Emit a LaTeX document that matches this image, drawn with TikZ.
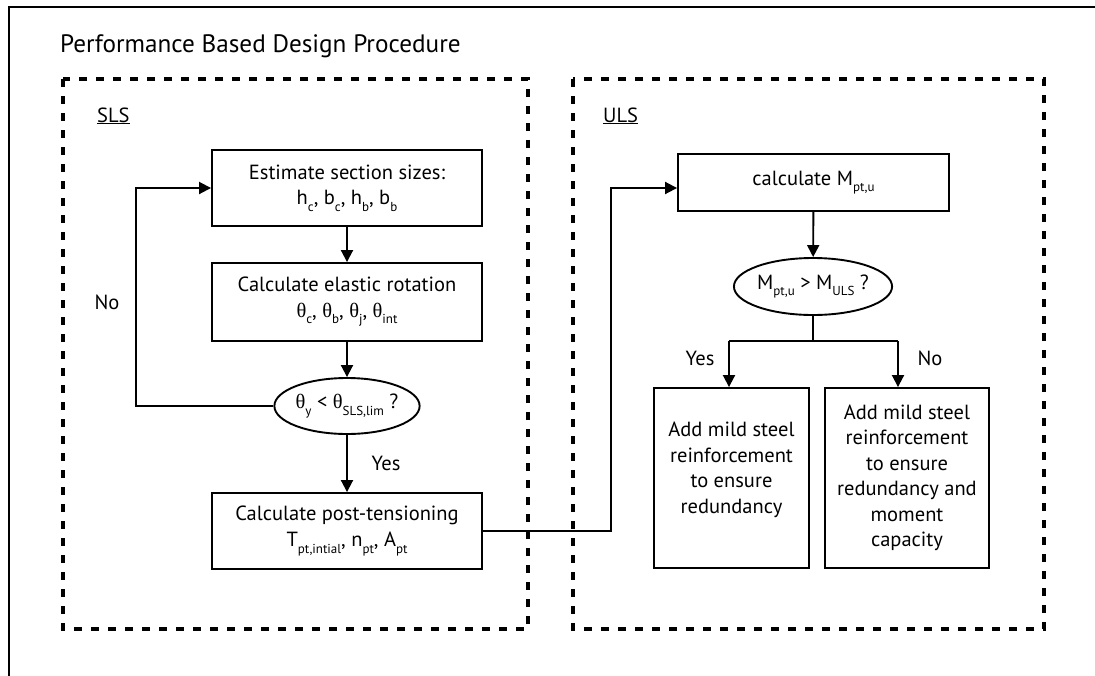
\documentclass[tikz,border=0pt]{standalone}
\usepackage{fontspec}
\setmainfont{PT Sans}
\newfontfamily\grk{Liberation Serif}
\usetikzlibrary{arrows.meta,shapes.geometric}
\newcommand{\lsub}[1]{\raisebox{-0.32em}{\fontsize{13}{13}\selectfont #1}}
\newcommand{\thet}{{\grk θ}}
\begin{document}
\begin{tikzpicture}[x=1pt,y=-1pt,
  txt/.style={font=\fontsize{20.5}{25.5}\selectfont, align=center, inner sep=0pt},
  box/.style={draw, line width=1.9pt, txt},
  dec/.style={ellipse, draw, line width=1.9pt, txt},
  grp/.style={draw, line width=3.5pt, dash pattern=on 8pt off 9pt},
  ln/.style={line width=1.9pt},
  arr/.style={line width=1.9pt, -{Triangle[length=12pt,width=12pt]}}]
\useasboundingbox (0,0) rectangle (1095,675);
\clip (0,0) rectangle (1095,675);
\fill[white] (0,0) rectangle (1095,675);
% outer frame
\draw[line width=2pt] (9,7) rectangle (1120,700);
\node[anchor=base west, inner sep=0pt, font=\fontsize{25.2}{28}\selectfont] (title) at (60,52) {Performance Based Design Procedure};
% groups
\draw[grp] (63,79) rectangle (528,629);
\draw[grp] (573,79) rectangle (1044,629);
\node[anchor=base west, txt] (sls) at (97,122) {\underline{SLS}};
\node[anchor=base west, txt] (uls) at (603,122) {\underline{ULS}};
% SLS nodes
\node[box, minimum width=270, minimum height=76] (box1) at (347,188) {Estimate section sizes:\\ h\lsub{c}, b\lsub{c}, h\lsub{b}, b\lsub{b}};
\node[box, minimum width=270, minimum height=78] (box2) at (347,302) {Calculate elastic rotation\\ \thet\lsub{c}, \thet\lsub{b}, \thet\lsub{j}, \thet\lsub{int}};
\node[dec, minimum width=137, minimum height=56] (ell1) at (347,406) {\thet\lsub{y} < \thet\lsub{SLS,lim} ?};
\node[box, minimum width=270, minimum height=76] (box3) at (347,531) {Calculate post-tensioning\\ T\lsub{pt,intial}, n\lsub{pt}, A\lsub{pt}};
\coordinate (loop) at (136,406);
\draw[arr] (box1) -- (box2);
\draw[arr] (box2) -- (ell1);
\draw[arr] (ell1) -- (box3);
\draw[arr] (ell1.west) -- (loop) |- (box1.west);
\node[txt] (no1) at (107,302) {No};
\node[txt] (yes1) at (386,463) {Yes};
% ULS nodes
\node[box, minimum width=271, minimum height=57] (box4) at (813.5,182.5) {calculate M\lsub{pt,u}};
\node[dec, minimum width=139, minimum height=57] (ell2) at (813,286.5) {M\lsub{pt,u} > M\lsub{ULS} ?};
\node[box, minimum width=155, minimum height=180] (box5) at (731.5,478) {};
\node[txt] (box5t) at (731.5,470) {Add mild steel\\reinforcement\\to ensure\\redundancy};
\node[box, minimum width=164, minimum height=180] (box6) at (907,478) {Add mild steel\\reinforcement\\to ensure\\redundancy and\\moment\\capacity};
\coordinate (turn) at (611,188);
\draw[arr] (box3.east) -| (turn) -- (turn -| box4.west);
\draw[arr] (box4) -- (ell2);
\coordinate (br) at (813,341);
\coordinate (bl) at (729,341);
\coordinate (brr) at (898,341);
\draw[ln] (ell2.south) -- (br);
\draw[ln] (bl) -- (brr);
\draw[arr] (bl) -- (bl |- box5.north);
\draw[arr] (brr) -- (brr |- box6.north);
\node[txt] (yes2) at (700,358) {Yes};
\node[txt] (no2) at (930,358) {No};
\end{tikzpicture}
\end{document}
